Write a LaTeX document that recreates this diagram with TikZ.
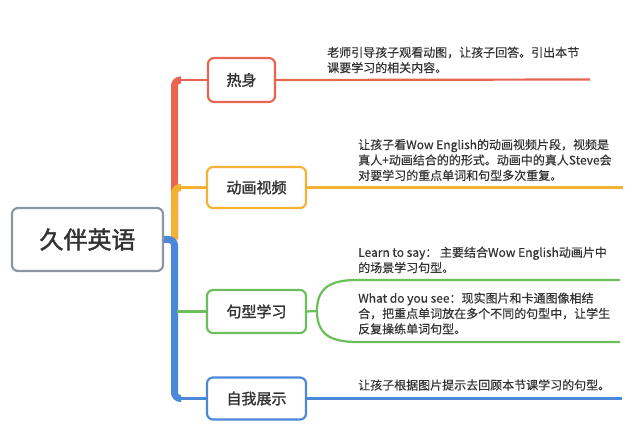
\documentclass[tikz,border=0pt]{standalone}
\usepackage{fontspec}
\setmainfont{Noto Sans CJK SC}
\newfontfamily\labelfont[FakeBold=1.6]{Noto Sans CJK SC}
\newfontfamily\descfont[FakeBold=0.4]{Noto Sans CJK SC}
\definecolor{cred}{HTML}{E8664F}
\definecolor{corange}{HTML}{F4B134}
\definecolor{cgreen}{HTML}{6ABF5A}
\definecolor{cblue}{HTML}{4C88D9}
\definecolor{cgrey}{HTML}{8C95A5}
\definecolor{ctext}{HTML}{333333}
\begin{document}
\begin{tikzpicture}[x=1pt,y=-1pt,
  rootbox/.style={draw=cgrey,line width=2.2pt,rounded corners=6pt,fill=white,minimum width=151pt,minimum height=63pt,inner sep=0pt,font=\labelfont\fontsize{24}{28}\selectfont,text=ctext},
  topicbox/.style={line width=2.2pt,rounded corners=6pt,fill=white,minimum height=42pt,inner sep=0pt,font=\labelfont\fontsize{15}{18}\selectfont,text=ctext},
  desc/.style={inner sep=0pt,anchor=west,align=left,font=\descfont\fontsize{12}{15.4}\selectfont,text=ctext},
  trunk/.style={line width=7pt,rounded corners=6pt},
  branch/.style={line width=2.2pt}]
\useasboundingbox (0,0) rectangle (640,443);
% trunk (drawn red, then orange, then blue)
\coordinate (hub) at (174.5,239.5);
\draw[trunk,cred] (hub) -- (174.5,80) -- (181,80);
\draw[trunk,corange] (hub) -- (174.5,187.5) -- (181,187.5);
\draw[trunk,cblue] (163,239.5) -- (hub) -- (174.5,398.5) -- (181,398.5);
% root
\node[rootbox] (root) at (87.5,239.5) {久伴英语};
% topic boxes
\node[topicbox,draw=cred,minimum width=67pt,minimum height=44pt] (hot) at (241.5,80) {热身};
\node[topicbox,draw=corange,minimum width=99pt,minimum height=41pt] (video) at (256.5,187.5) {动画视频};
\node[topicbox,draw=cgreen,minimum width=99pt,minimum height=43pt] (pattern) at (256.5,311.5) {句型学习};
\node[topicbox,draw=cblue,minimum width=99pt,minimum height=42pt] (show) at (256.5,398.5) {自我展示};
% branch lines to boxes
\draw[branch,cred] (180,80) -- (hot.west);
\draw[branch,corange] (180,187.5) -- (video.west);
\draw[branch,cgreen] (177,311.5) -- (pattern.west);
\draw[branch,cblue] (180,398.5) -- (show.west);
% lines to the right
\coordinate (hotend) at (590,79.5);
\coordinate (videoend) at (623,187.5);
\coordinate (patfork) at (317,311);
\coordinate (patA) at (357,280);
\coordinate (patAend) at (620,280);
\coordinate (patB) at (357,342);
\coordinate (patBend) at (620,342);
\coordinate (showend) at (622,398.5);
\draw[branch,cred] (hot.east) -- (hotend);
\draw[branch,corange] (video.east) -- (videoend);
\draw[branch,cblue] (show.east) -- (showend);
\draw[branch,cgreen] (pattern.east) -- (patfork);
\draw[branch,cgreen] (patfork) .. controls (317,288) and (330,280) .. (patA) -- (patAend);
\draw[branch,cgreen] (patfork) .. controls (317,334) and (330,342) .. (patB) -- (patBend);
% descriptions
\node[desc] (d1) at (327,60) {老师引导孩子观看动图，让孩子回答。引出本节\\课要学习的相关内容。};
\node[desc] (d2) at (358,160) {让孩子看Wow English的动画视频片段，视频是\\真人+动画结合的的形式。动画中的真人Steve会\\对要学习的重点单词和句型多次重复。};
\node[desc] (d3) at (358,260) {Learn to say： 主要结合Wow English动画片中\\的场景学习句型。};
\node[desc] (d4) at (358,313.5) {What do you see：现实图片和卡通图像相结\\合，把重点单词放在多个不同的句型中，让学生\\反复操练单词句型。};
\node[desc] (d5) at (358,385) {让孩子根据图片提示去回顾本节课学习的句型。};
\end{tikzpicture}
\end{document}
